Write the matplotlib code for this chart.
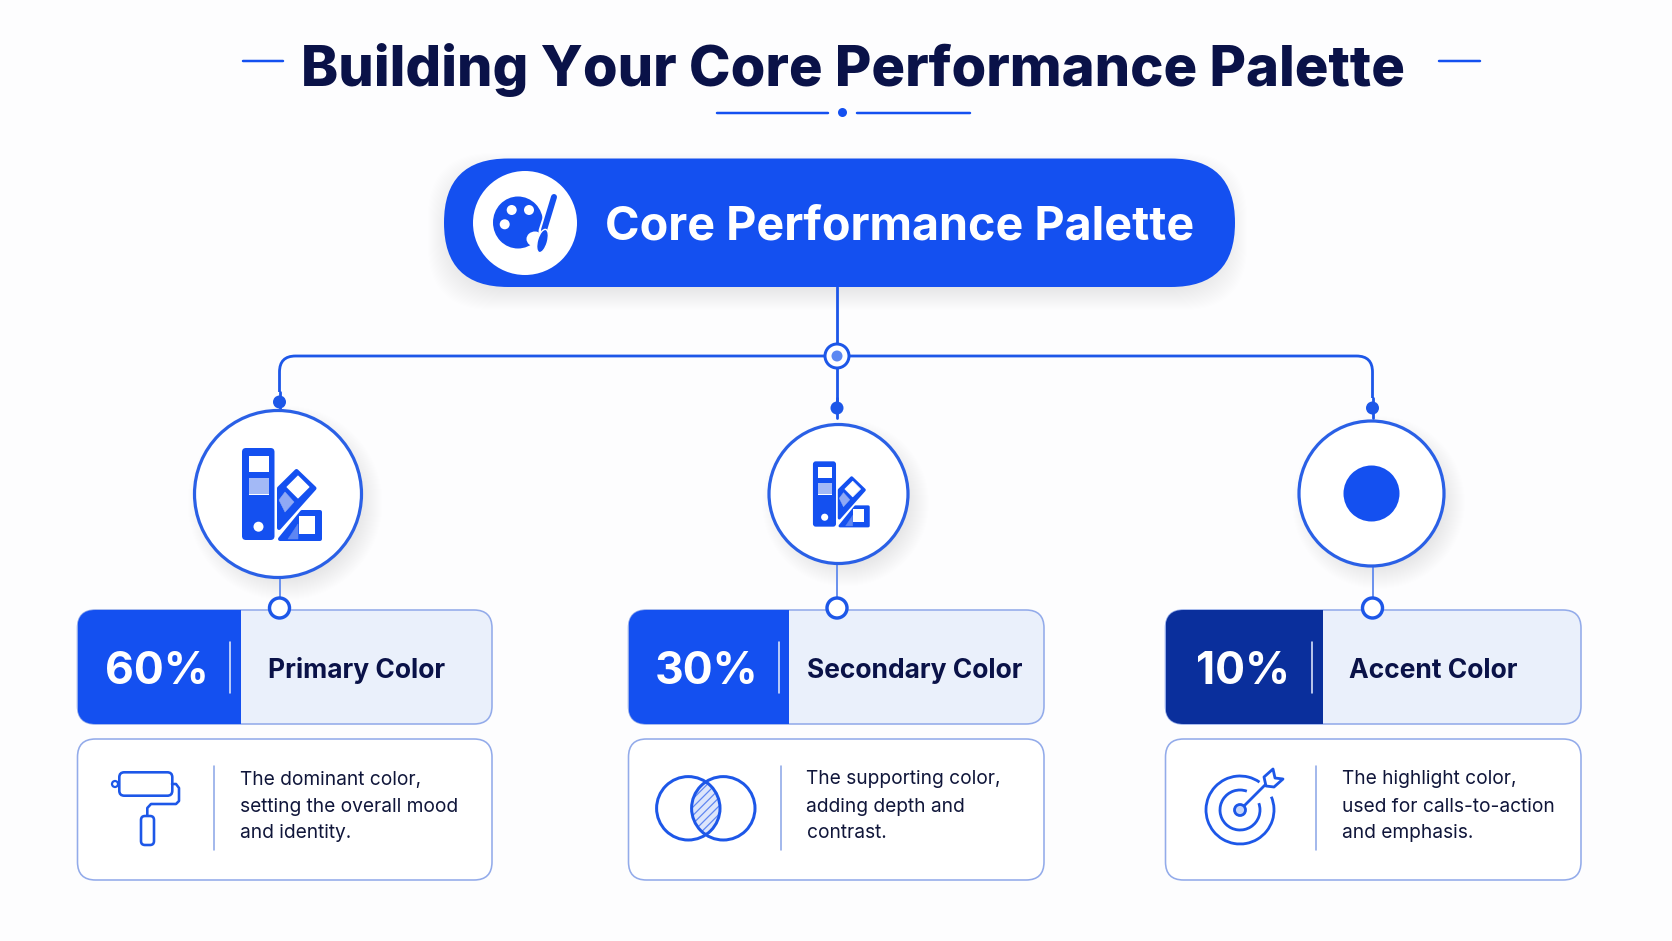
import matplotlib
matplotlib.use("Agg")
import matplotlib.pyplot as plt
from matplotlib.patches import Circle, Arc, FancyBboxPatch, PathPatch, Polygon, Rectangle, Ellipse
from matplotlib.path import Path

plt.rcParams['font.family'] = ['Inter', 'DejaVu Sans']
plt.rcParams['hatch.linewidth'] = 0.9

BLUE = "#1450f0"
NAVY = "#0a1248"
INK = "#10163a"
DARK = "#0a2f9c"
EDGE = "#93abea"
PALE = "#eaf0fb"
LINE = "#1d57e8"

# chart content
title = "Building Your Core Performance Palette"
root_label = "Core Performance Palette"
shares = ["60%", "30%", "10%"]
names = ["Primary Color", "Secondary Color", "Accent Color"]
descriptions = [
    ["The dominant color,", "setting the overall mood", "and identity."],
    ["The supporting color,", "adding depth and", "contrast."],
    ["The highlight color,", "used for calls-to-action", "and emphasis."],
]
share_colors = [BLUE, BLUE, DARK]

# layout, in pixels of the output image
card_left = [77.5, 628.5, 1165.5]
card_right = [492, 1044, 1581]
panel_right = [240.5, 788.5, 1322.5]
panel_rule = [230, 779, 1312]
share_x = [157, 706.5, 1242.5]
name_x = [268, 807, 1349]
desc_rule = [214, 781, 1316]
desc_x = [239.5, 806.5, 1341.5]
branch_x = [279.5, 837, 1372.5]
drop_y = [402, 408, 408]
circle_x = [278, 838.5, 1371.5]
circle_y = [494, 494, 493.5]
circle_r = [83.5, 69.5, 72.5]

fig = plt.figure(figsize=(16.72, 9.41), dpi=100, facecolor="#fdfdfe")
ax = fig.add_axes([0, 0, 1, 1])
ax.set_xlim(0, 1672)
ax.set_ylim(941, 0)
ax.axis("off")


def px(w):
    # pixels to points
    return w * 0.72


def rrect(x0, y0, x1, y1, r, **kw):
    p = FancyBboxPatch((x0, y0), x1 - x0, y1 - y0,
                       boxstyle=f"round,pad=0,rounding_size={r}", **kw)
    ax.add_patch(p)
    return p


def line(xs, ys, w=2.5, color=LINE, z=3, **kw):
    ax.plot(xs, ys, color=color, lw=px(w), zorder=z,
            solid_capstyle="round", solid_joinstyle="round", **kw)


def circle_shadow(x, y, r):
    for i in range(24):
        ax.add_patch(Circle((x + 7, y + 9), r + 14 - i * 1.0, fc="#26345f",
                            ec="none", alpha=0.004, zorder=1))


def swatches(cx, cy, s):
    def P(pts, color, z=6, w=2):
        ax.add_patch(Polygon([(cx + a * s, cy + b * s) for a, b in pts], closed=True,
                             fc=color, ec=color, lw=px(w * s), joinstyle="round", zorder=z))

    def R(a0, b0, a1, b1, color, z=7):
        ax.add_patch(Rectangle((cx + a0 * s, cy + b0 * s), (a1 - a0) * s, (b1 - b0) * s,
                               fc=color, ec="none", zorder=z))

    rrect(cx - 36 * s, cy - 46 * s, cx - 3.5 * s, cy + 46 * s, 4 * s, fc=BLUE, ec="none", zorder=6)
    R(-29.5, -38, -9, -22, "white")
    R(-29.5, -16, -9, 0, "#a3b9f6")
    R(-29.5, 0, -9, 1.2, "white")
    ax.add_patch(Circle((cx - 19.5 * s, cy + 32.7 * s), 5 * s, fc="white", ec="none", zorder=7))
    # arm of the fan
    P([(1, -5.7), (18.5, -23), (36.5, -5.7), (1, 34)], BLUE, w=4)
    P([(9, -7), (20, -18), (31, -7), (20, 4)], "white", 7, 1)
    P([(1, 6), (7, -2), (16, 8), (7, 18)], "#8fa9f5", 7, 0.5)
    # foot of the fan
    P([(2, 45), (24, 18), (42, 18), (42, 45)], BLUE, w=4)
    P([(10, 45), (20, 30), (20, 45)], "#5f86f2", 7, 0.5)
    R(21, 21.7, 36.5, 40, "white")


# title with its rules
ax.text(853, 70, title, fontsize=40.4, fontweight=800, color=NAVY, ha="center", va="center")
line([243, 283], [61, 61], 2.5, BLUE)
line([1439, 1480], [61, 61], 2.5, BLUE)
line([717, 828], [112.5, 112.5], 2.5, BLUE)
line([857, 970], [112.5, 112.5], 2.5, BLUE)
ax.add_patch(Circle((842.5, 112.5), 4.5, fc=BLUE, ec="none", zorder=3))

# root pill
for i in range(24):
    rrect(444 - 14 + i * 1.0 - 2, 158 - 14 + i * 1.0 + 9, 1235 + 14 - i * 1.0 - 2,
          287 + 14 - i * 1.0 + 9, 64, fc="#26345f", ec="none", alpha=0.004, zorder=1)
rrect(444, 158.5, 1235, 287, 64, fc=BLUE, ec="none", zorder=4)
ax.add_patch(Circle((525, 223), 52, fc="white", ec="none", zorder=5))
ax.text(900, 227, root_label, fontsize=33.6, fontweight="bold", color="white", ha="center", va="center", zorder=5)

# palette glyph in the root pill
ax.add_patch(Ellipse((518, 222.5), 50, 52, fc=BLUE, ec="none", zorder=6))
for hx, hy in [(511.7, 210), (529, 210), (504.7, 224.3)]:
    ax.add_patch(Circle((hx, hy), 5, fc="white", ec="none", zorder=7))
ax.add_patch(Ellipse((535, 239), 17, 15, fc="white", ec="none", zorder=7))
line([554, 543], [197, 231], 9, "white", 8)
line([554, 544], [197, 230], 6, BLUE, 9)
ax.add_patch(Ellipse((542.5, 241), 10, 24, angle=16, fc=BLUE, ec="white", lw=1, zorder=9))

# connectors
line([837, 837], [287, 408], 2.8)
branch = Path([(branch_x[0], 392), (branch_x[0], 372), (branch_x[0], 356), (branch_x[0] + 16, 356),
               (branch_x[2] - 16, 356), (branch_x[2], 356), (branch_x[2], 372), (branch_x[2], 398)],
              [Path.MOVETO, Path.LINETO, Path.CURVE3, Path.CURVE3,
               Path.LINETO, Path.CURVE3, Path.CURVE3, Path.LINETO])
ax.add_patch(PathPatch(branch, fc="none", ec=LINE, lw=px(2.8), zorder=3))
ax.add_patch(Circle((837, 356), 12, fc="white", ec=LINE, lw=px(3), zorder=4))
ax.add_patch(Circle((837, 356), 5.5, fc="#5c88f2", ec="none", zorder=5))

for i in range(3):
    # badge circle and its connectors
    x = circle_x[i]
    y = circle_y[i]
    r = circle_r[i]
    bx = branch_x[i]
    line([bx, bx], [drop_y[i] - 10, drop_y[i] + 10], 2.8)
    ax.add_patch(Circle((bx, drop_y[i]), 6.5, fc=LINE, ec="none", zorder=3))
    circle_shadow(x, y, r)
    ax.add_patch(Circle((x, y), r, fc="white", ec="#2a60e6", lw=px(3.2), zorder=4))
    line([bx, bx], [y + r, 600], 2, "#6d93ee", 2)

    # percent card
    rrect(card_left[i], 610, card_right[i], 724, 18, fc=PALE, ec=EDGE, lw=px(1.6), zorder=2)
    panel = rrect(card_left[i], 610, card_right[i], 724, 18, fc=share_colors[i], ec="none", zorder=3)
    panel.set_clip_path(Rectangle((card_left[i], 600), panel_right[i] - card_left[i], 130, transform=ax.transData))
    ax.add_patch(Circle((bx, 608), 10, fc="white", ec=LINE, lw=px(3.4), zorder=5))
    line([panel_rule[i], panel_rule[i]], [642, 693], 1.6, "#dfe7fb", 4)
    ax.text(share_x[i], 672, shares[i], fontsize=32, fontweight="bold", color="white",
            ha="center", va="center", zorder=4)
    ax.text(name_x[i], 670.5, names[i], fontsize=19, fontweight="bold", color=NAVY,
            ha="left", va="center", zorder=4)

    # description card
    rrect(card_left[i], 739, card_right[i], 880, 18, fc="white", ec=EDGE, lw=px(1.6), zorder=2)
    line([desc_rule[i], desc_rule[i]], [766, 850], 1.6, "#8ea8e8", 3)
    for k, row in enumerate(descriptions[i]):
        ax.text(desc_x[i], 784.5 + 27 * k, row, fontsize=13.8, color=INK, ha="left", va="baseline", zorder=4)

# badge glyphs
swatches(278, 494, 1.0)
swatches(838.5, 494, 0.71)
ax.add_patch(Circle((1371.5, 493.5), 28, fc=BLUE, ec="none", zorder=6))

# paint roller
rrect(119.3, 772.3, 172.3, 795.7, 5, fc="white", ec=LINE, lw=px(2.6), zorder=4)
ax.add_patch(Circle((115, 784), 3, fc="white", ec=LINE, lw=px(2.2), zorder=3))
line([172, 176, 179, 179, 176, 151, 147.3, 147.3], [784, 784, 788, 801, 804, 804, 808, 816], 2.6, z=4)
rrect(141, 816, 154, 845, 4, fc="white", ec=LINE, lw=px(2.6), zorder=4)

# overlapping circles
lens = Circle((723.3, 808.3), 31.7, fc="#dde6fb", ec="#5f86f2", lw=0, hatch="////", zorder=3)
ax.add_patch(lens)
lens.set_clip_path(Circle((688.3, 808.3), 31.7, transform=ax.transData))
for cx in [688.3, 723.3]:
    ax.add_patch(Circle((cx, 808.3), 31.7, fc="none", ec=LINE, lw=px(3), zorder=4))

# target with arrow
ax.add_patch(Arc((1240, 810), 68, 68, theta1=-23, theta2=305, ec=LINE, lw=px(2.8), zorder=4))
ax.add_patch(Arc((1240, 810), 40, 40, theta1=-20, theta2=290, ec=LINE, lw=px(2.8), zorder=4))
ax.add_patch(Circle((1240, 810), 5.5, fc="#c7d6f9", ec=LINE, lw=px(2.8), zorder=5))
line([1240, 1270], [810, 780], 2.8, z=4)
ax.add_patch(Polygon([(1264, 777), (1273, 769), (1275, 778), (1283, 779), (1274, 787), (1266, 786)],
                     closed=True, fc="white", ec=LINE, lw=px(2.8), joinstyle="round", zorder=5))

fig.savefig("out.png", dpi=100, facecolor=fig.get_facecolor())
